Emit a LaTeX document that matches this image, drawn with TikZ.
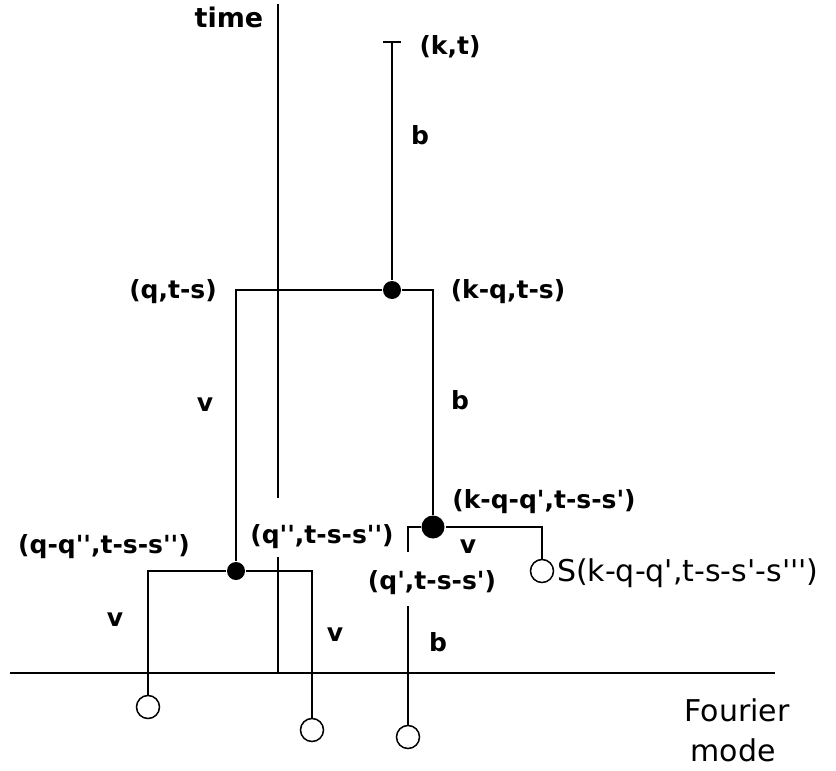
\documentclass[tikz,border=0pt]{standalone}
\usepackage{fontspec}
\setmainfont{DejaVu Sans}[Ligatures=TeXOff]

\tikzset{
  lbl/.style={font=\fontsize{25}{28}\selectfont\bfseries, inner sep=1pt},
  bigtxt/.style={font=\fontsize{30}{34}\selectfont, inner sep=1pt},
  vtx/.style={circle, fill=black, inner sep=0pt, minimum size=18pt},
  bigvtx/.style={circle, fill=black, inner sep=0pt, minimum size=23pt},
  leaf/.style={circle, draw, fill=white, inner sep=0pt, minimum size=23pt, line width=1.5pt},
}

\begin{document}
\begin{tikzpicture}[x=1pt, y=-1pt, line width=2pt]
    \useasboundingbox (0,0) rectangle (836,771);

    % axes
    \coordinate (xl) at (10,673);
    \coordinate (xr) at (775,673);
    \coordinate (ttop) at (278,4);
    \coordinate (tgap1) at (278,498);
    \coordinate (tgap2) at (278,557);
    \coordinate (tbot) at (278,673);
    \draw (xl) -- (xr);
    \draw (ttop) -- (tgap1);
    \draw (tgap2) -- (tbot);

    % vertices
    \coordinate (tickl) at (383,42);
    \coordinate (tickr) at (401,42);
    \coordinate (kt) at (392,42);
    \node[vtx] (v1) at (392,290) {};
    \node[vtx] (v2) at (236,571) {};
    \node[bigvtx] (v3) at (433,527) {};
    \coordinate (stub) at (408,552);
    \coordinate (qstart) at (408,606);

    % leaves
    \node[leaf] (la) at (148,707) {};
    \node[leaf] (lb) at (312,730) {};
    \node[leaf] (lc) at (408,737) {};
    \node[leaf] (ls) at (542,571) {};

    % branches
    \draw (tickl) -- (tickr);
    \draw (kt) -- (v1);
    \draw (v1) -| (v2);
    \draw (v1) -| (v3);
    \draw (v3) -| (stub);
    \draw (v3) -| (ls);
    \draw (v2) -| (la);
    \draw (v2) -| (lb);
    \draw (qstart) -- (lc);

    % labels
    \node[lbl, font=\fontsize{27}{30}\selectfont\bfseries] (time) at (229,17) {time};
    \node[lbl] (nkt) at (450,47) {(k,t)};
    \node[lbl] (b1) at (420,135) {b};
    \node[lbl] (nq) at (173,292) {(q,t-s)};
    \node[lbl] (nkq) at (508,292) {(k-q,t-s)};
    \node[lbl] (v1l) at (205,405) {v};
    \node[lbl] (b2) at (460,400) {b};
    \node[lbl] (nkqq) at (544,502) {(k-q-q',t-s-s')};
    \node[lbl] (nqqpp) at (104,547) {(q-q'',t-s-s'')};
    \node[lbl] (nqpp) at (322,537) {(q'',t-s-s'')};
    \node[lbl] (v2l) at (468,547) {v};
    \node[lbl] (nqp) at (432,583) {(q',t-s-s')};
    \node[bigtxt, anchor=west] (nS) at (555,573) {S(k-q-q',t-s-s'-s''')};
    \node[lbl] (v3l) at (115,620) {v};
    \node[lbl] (v4l) at (335,635) {v};
    \node[lbl] (b3) at (438,642) {b};
    \node[bigtxt] (four) at (737,710) {Fourier};
    \node[bigtxt] (mode) at (733,750) {mode};
\end{tikzpicture}
\end{document}
